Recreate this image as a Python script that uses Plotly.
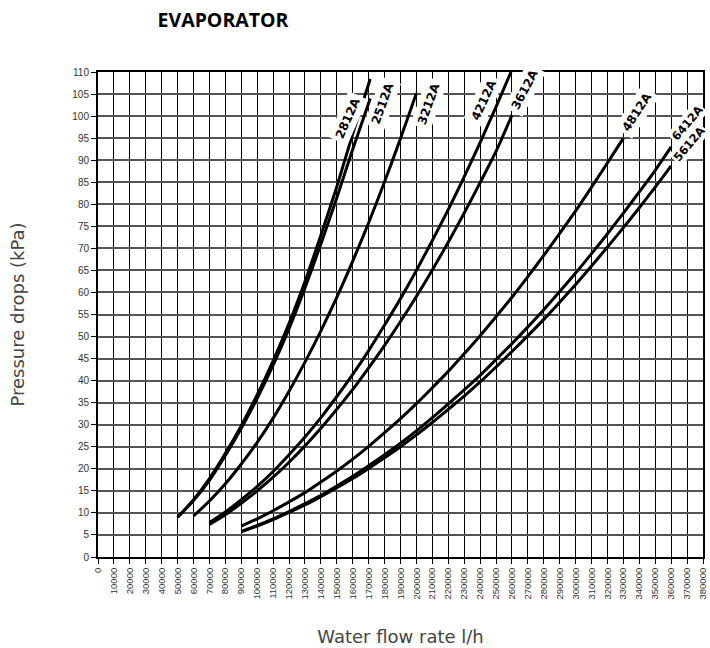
import plotly.graph_objects as go

# ---- data ----
flow_2812A = [50000, 60000, 70000, 80000, 90000, 100000, 110000, 120000, 130000, 140000, 150000, 160000, 171000]
dp_2812A = [9.0, 13.0, 17.8, 23.5, 29.8, 36.8, 44.5, 53.0, 62.5, 73.0, 84.0, 96.0, 108.4]

flow_2512A = [50000, 60000, 70000, 80000, 90000, 100000, 110000, 120000, 130000, 140000, 150000, 160000, 171000]
dp_2512A = [9.0, 12.8, 17.4, 23.0, 29.2, 36.0, 43.5, 51.8, 61.0, 71.0, 81.5, 92.5, 104.0]

flow_3212A = [60000, 70000, 80000, 90000, 100000, 110000, 120000, 130000, 140000, 150000, 160000, 170000, 180000, 190000, 200000]
dp_3212A = [9.3, 12.7, 16.6, 21.1, 26.0, 31.5, 37.6, 44.2, 51.3, 58.9, 67.1, 75.8, 85.1, 94.9, 105.2]

flow_4212A = [70000, 80000, 90000, 100000, 110000, 120000, 130000, 140000, 150000, 160000, 170000, 180000, 190000, 200000, 210000, 220000, 230000, 240000, 250000, 259400]
dp_4212A = [7.8, 10.2, 13.0, 16.0, 19.4, 23.2, 27.2, 31.6, 36.4, 41.4, 46.8, 52.6, 58.6, 65.0, 71.8, 78.8, 86.2, 94.0, 102.1, 110.0]

flow_3612A = [70000, 80000, 90000, 100000, 110000, 120000, 130000, 140000, 150000, 160000, 170000, 180000, 190000, 200000, 210000, 220000, 230000, 240000, 250000, 260000]
dp_3612A = [7.4, 9.6, 12.2, 15.0, 18.1, 21.5, 25.2, 29.2, 33.5, 38.0, 42.9, 48.0, 53.4, 59.1, 65.1, 71.4, 78.0, 84.9, 92.0, 100.2]

flow_4812A = [90000, 100000, 110000, 120000, 130000, 140000, 150000, 160000, 170000, 180000, 190000, 200000, 210000, 220000, 230000, 240000, 250000, 260000, 270000, 280000, 290000, 300000, 310000, 320000, 330000]
dp_4812A = [7.0, 8.65, 10.5, 12.5, 14.6, 17.0, 19.5, 22.2, 25.1, 28.2, 31.4, 34.8, 38.4, 42.1, 46.1, 50.2, 54.5, 58.9, 63.6, 68.4, 73.4, 78.5, 83.9, 89.4, 95.0]

flow_6412A = [90000, 100000, 110000, 120000, 130000, 140000, 150000, 160000, 170000, 180000, 190000, 200000, 210000, 220000, 230000, 240000, 250000, 260000, 270000, 280000, 290000, 300000, 310000, 320000, 330000, 340000, 350000, 360000]
dp_6412A = [5.8, 7.16, 8.66, 10.3, 12.1, 14.0, 16.1, 18.3, 20.7, 23.2, 25.8, 28.6, 31.6, 34.7, 37.9, 41.2, 44.8, 48.4, 52.2, 56.1, 60.2, 64.4, 68.8, 73.3, 78.0, 82.8, 87.7, 93.0]

flow_5612A = [90000, 100000, 110000, 120000, 130000, 140000, 150000, 160000, 170000, 180000, 190000, 200000, 210000, 220000, 230000, 240000, 250000, 260000, 270000, 280000, 290000, 300000, 310000, 320000, 330000, 340000, 350000, 360000]
dp_5612A = [5.7, 7.02, 8.48, 10.1, 11.8, 13.7, 15.7, 17.8, 20.1, 22.5, 25.0, 27.7, 30.5, 33.5, 36.5, 39.7, 43.1, 46.6, 50.2, 53.9, 57.8, 61.8, 66.0, 70.3, 74.7, 79.2, 83.9, 88.7]

model_names = ["2812A", "2512A", "3212A", "4212A", "3612A", "4812A", "6412A", "5612A"]
x_ticks = list(range(0, 380001, 10000))
y_ticks = list(range(0, 111, 5))

series = {
    "2812A": (flow_2812A, dp_2812A),
    "2512A": (flow_2512A, dp_2512A),
    "3212A": (flow_3212A, dp_3212A),
    "4212A": (flow_4212A, dp_4212A),
    "3612A": (flow_3612A, dp_3612A),
    "4812A": (flow_4812A, dp_4812A),
    "6412A": (flow_6412A, dp_6412A),
    "5612A": (flow_5612A, dp_5612A),
}

# label placement (x, y, angle, font size, pad) in data units
label_pos = {
    "2812A": (156900, 99.6, -66, 12, 3),
    "2512A": (178500, 102.8, -70, 12, 3),
    "3212A": (207600, 102.8, -70, 12, 3),
    "4212A": (242300, 103.7, -65, 12, 3),
    "3612A": (267800, 106.0, -62, 12, 3),
    "4812A": (338300, 101.0, -57, 12, 3),
    "5612A": (371400, 93.6, -50, 11.5, 1),
    "6412A": (370300, 98.4, -50, 11.5, 1),
}

fig = go.Figure()
for name in model_names:
    xs, ys = series[name]
    fig.add_trace(go.Scatter(
        x=xs, y=ys, mode="lines", name=name,
        line=dict(color="black", width=3, shape="spline", smoothing=0.6),
        showlegend=False, hoverinfo="skip",
    ))

for name, (lx, ly, ang, fs, pad) in label_pos.items():
    fig.add_annotation(
        x=lx, y=ly, xref="x", yref="y", text=name, showarrow=False,
        textangle=ang, bgcolor="white", borderpad=pad,
        font=dict(family="DejaVu Sans", size=fs, color="black", weight="bold"),
    )

fig.update_layout(
    width=710, height=648,
    margin=dict(l=98, r=2, t=72, b=91),
    paper_bgcolor="white", plot_bgcolor="white",
    title=dict(
        text="<b>EVAPORATOR</b>", x=223 / 710, xanchor="center",
        y=1 - 20 / 648, yanchor="middle",
        font=dict(family="Open Sans", size=19.5, color="black"),
    ),
)

fig.update_xaxes(
    range=[0, 380000], tickmode="array", tickvals=x_ticks,
    ticktext=[str(v) for v in x_ticks], tickangle=-90,
    ticklabeloverflow="allow",
    tickfont=dict(family="Liberation Sans", size=9.5, color="#333333"),
    ticks="outside", ticklen=5, tickwidth=1.2, tickcolor="black",
    showgrid=True, gridcolor="black", gridwidth=1.3,
    showline=True, linecolor="black", linewidth=2, mirror=True,
    zeroline=False,
    title=dict(text="Water flow rate l/h", standoff=32,
               font=dict(family="DejaVu Sans", size=18, color="#444444")),
)
fig.update_yaxes(
    range=[0, 110], tickmode="array", tickvals=y_ticks,
    ticktext=[str(v) for v in y_ticks],
    tickfont=dict(family="Liberation Sans", size=10, color="#333333"),
    ticks="outside", ticklen=5, tickwidth=1.2, tickcolor="black",
    showgrid=True, gridcolor="#555555", gridwidth=1.5,
    showline=True, linecolor="black", linewidth=2, mirror=True,
    zeroline=False,
    title=dict(text="Pressure drops (kPa)", standoff=43,
               font=dict(family="DejaVu Sans", size=18, color="#444444")),
)

fig.write_html("out.html")
